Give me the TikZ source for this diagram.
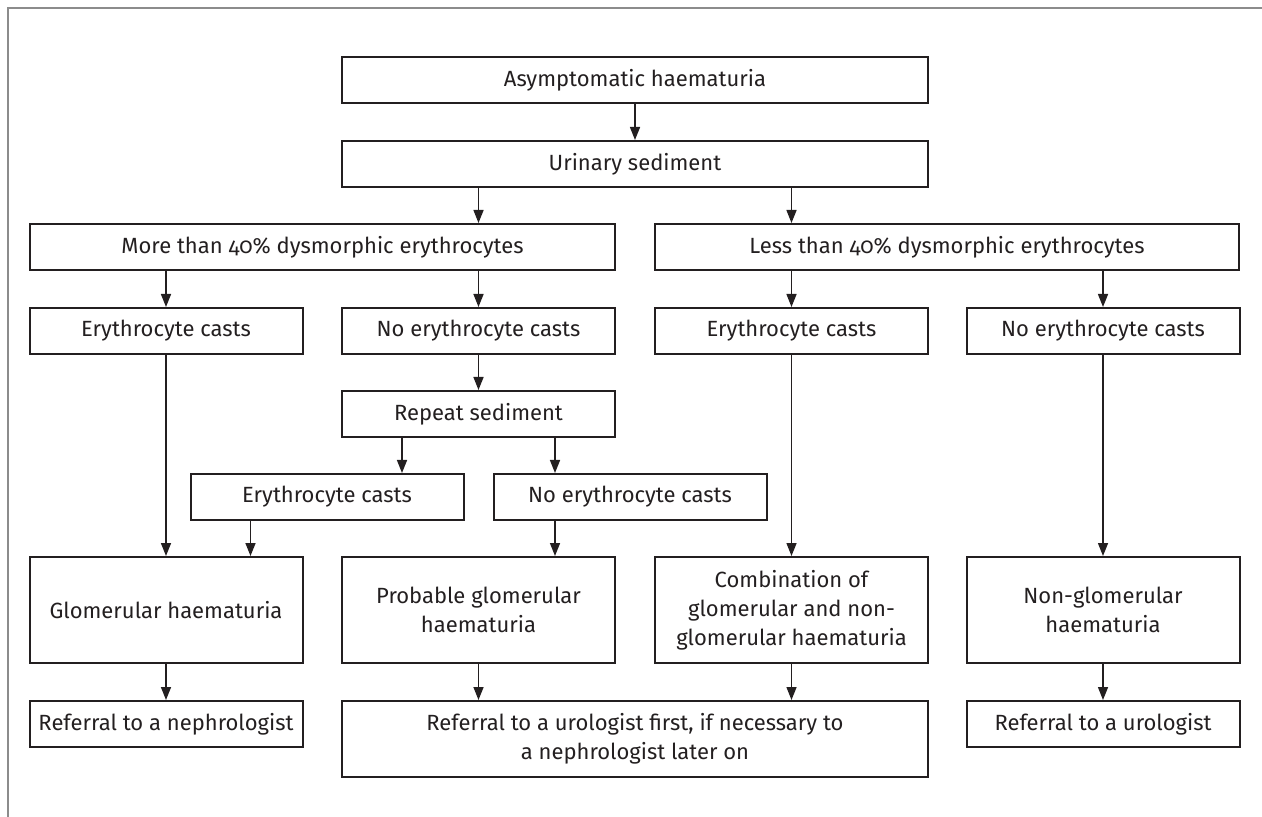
\documentclass[tikz,border=0pt]{standalone}
\usepackage{fontspec}
\setmainfont{Fira Sans}[Numbers=OldStyle]
\usetikzlibrary{calc,arrows.meta}
\definecolor{ink}{HTML}{231F20}
\definecolor{rule}{HTML}{8C8C8C}

\begin{document}
\begin{tikzpicture}
		[x=0.5pt,y=-0.5pt,font=\fontsize{11}{14.5}\selectfont]
			\tikzstyle{every node}=[draw=ink, line width=1pt, text=ink,
		inner sep=0pt, align=center, minimum width=136.5pt, minimum height=23pt]
			\tikzstyle{arr}=[draw=ink, line width=0.75pt, -{Triangle[length=6.5pt,width=5pt]}]
		\useasboundingbox (0,0) rectangle (1262,817);
		%-----frame
		 \draw[rule, line width=0.75pt] (1262,8) -- (8,8) -- (8,817);
		%-----A
		 \node[minimum width=293pt]  (asym) at (635,80) {Asymptomatic haematuria};
		 \node[minimum width=293pt]  (urin) at (635,164) {Urinary sediment};
		 \node[minimum width=292.5pt]  (more) at (322.5,247) {More than 40\% dysmorphic erythrocytes};
		 \node[minimum width=292pt]  (less) at (947,247) {Less than 40\% dysmorphic erythrocytes};
		%-----B
		 \node  (ec1) at (166,331) {Erythrocyte casts};
		 \node  (ne2) at (478.5,331) {No erythrocyte casts};
		 \node  (ec3) at (791.5,331) {Erythrocyte casts};
		 \node  (ne4) at (1103,331) {No erythrocyte casts};
		 \node  (rep) at (478.5,414) {Repeat sediment};
		 \node  (rec) at (327,497) {Erythrocyte casts};
		 \node  (rne) at (630,497) {No erythrocyte casts};
		%-----C
		 \node[minimum height=53pt]  (glom) at (166,610) {Glomerular haematuria};
		 \node[minimum height=53pt]  (prob) at (478.5,610) {Probable glomerular\\haematuria};
		 \node[minimum height=53pt]  (comb) at (791.5,610) {Combination of\\glomerular and non-\\glomerular haematuria};
		 \node[minimum height=53pt]  (nong) at (1103,610) {Non-glomerular\\haematuria};
		 \node  (refn) at (166,724) {Referral to a nephrologist};
		 \node[minimum width=293pt, minimum height=38pt]  (refu) at (635,739) {Referral to a urologist first, if necessary to\\a nephrologist later on};
		 \node  (refr) at (1103,724) {Referral to a urologist};
		 
		 \coordinate (xa) at ($(rep.south west)+(61,0)$);
		 \coordinate (xb) at ($(rep.south east)+(-61,0)$);
		 \coordinate (xc) at ($(rec.south west)+(61,0)$);
		 
		 \foreach \from/\to/\xpos in {asym/urin/asym,urin/more/ne2,urin/less/ec3,more/ec1/ec1,more/ne2/ne2,less/ec3/ec3,less/ne4/ne4,ne2/rep/rep,rep/rec/xa,rep/rne/xb,ec1/glom/ec1,rec/glom/xc,rne/prob/xb,ec3/comb/ec3,ne4/nong/ne4,glom/refn/glom,prob/refu/prob,comb/refu/comb,nong/refr/nong}
		 \draw[arr] (\from.south -| \xpos) -- (\to.north -| \xpos);
		 
		\end{tikzpicture}
\end{document}
